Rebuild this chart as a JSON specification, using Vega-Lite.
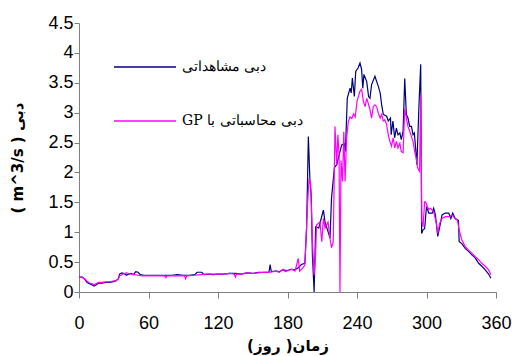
{
  "$schema": "https://vega.github.io/schema/vega-lite/v6.json",
  "width": 417,
  "height": 269,
  "autosize": "none",
  "padding": {"left": 79, "top": 23, "right": 16, "bottom": 64},
  "background": "white",
  "config": {"view": {"stroke": null}},
  "datasets": {
    "o": [[0,0.25],[3,0.25],[5,0.21],[7,0.16],[9,0.14],[11,0.12],[13,0.1],[15,0.12],[17,0.15],[20,0.15],[23,0.16],[26,0.16],[29,0.17],[32,0.19],[34,0.22],[35,0.3],[37,0.32],[39,0.31],[41,0.28],[43,0.3],[45,0.31],[47,0.29],[49,0.34],[51,0.33],[53,0.29],[56,0.28],[60,0.28],[65,0.28],[70,0.28],[75,0.28],[80,0.28],[85,0.29],[90,0.28],[95,0.28],[100,0.29],[102,0.33],[106,0.33],[108,0.29],[112,0.3],[116,0.29],[120,0.3],[125,0.3],[130,0.31],[135,0.31],[140,0.3],[145,0.32],[150,0.31],[155,0.33],[160,0.33],[164,0.33],[165,0.46],[166,0.34],[170,0.35],[173,0.34],[176,0.37],[180,0.36],[183,0.38],[186,0.37],[189,0.4],[192,0.46],[195,0.48],[196.5,1.07],[198,2.6],[199.4,1.85],[200.5,1.62],[201.5,0.62],[203,0],[204.3,1.09],[207,1.07],[208,1.15],[211,1.37],[212.4,1.17],[215,1.01],[216.7,0.9],[218,1.57],[220.5,2.08],[222.5,2.13],[225.3,2.35],[226.8,2.46],[229,2.48],[230,2.35],[231.6,3.24],[234,3.41],[235,3.33],[236,3.58],[237.7,3.27],[238.9,3.69],[241,3.75],[242.6,3.83],[244,3.72],[245,3.41],[246,3.64],[248.4,3.52],[250,3.27],[251.2,3.24],[252.6,3.47],[255.5,3.61],[257,3.52],[258.4,3.44],[260,3.33],[261.3,3.13],[262.7,2.97],[265.6,2.94],[267,2.86],[268.9,2.91],[269.5,2.63],[271,2.86],[272.5,2.58],[274,2.74],[275.4,2.63],[277,2.66],[278.2,2.55],[279.8,2.69],[281.2,3.57],[282.6,2.97],[284,2.91],[285.5,2.77],[287,2.77],[288.4,2.63],[289.5,2.66],[290.6,2.41],[291.7,2.13],[293.5,3.13],[295,3.81],[295.8,0.98],[297,1.04],[298.4,1.06],[300,1.43],[302,1.32],[305,1.32],[306.2,1.4],[307.7,1.29],[309.7,0.93],[311.4,1.09],[313.4,1.29],[316.3,1.32],[319.2,1.32],[321,1.23],[322.7,1.32],[324.7,1.23],[327.6,1.2],[328.2,0.84],[330.5,0.81],[333.4,0.73],[336.3,0.68],[339.2,0.62],[342,0.57],[345,0.48],[347.8,0.43],[350.7,0.37],[353.6,0.3],[355.6,0.23]],
    "g": [[0,0.25],[3,0.24],[5,0.22],[7,0.18],[9,0.15],[11,0.14],[13,0.12],[15,0.14],[17,0.16],[20,0.16],[23,0.17],[26,0.17],[29,0.18],[32,0.19],[34,0.22],[35,0.27],[37,0.29],[39,0.31],[41,0.32],[43,0.31],[45,0.3],[48,0.29],[51,0.28],[54,0.27],[60,0.27],[65,0.27],[70,0.27],[74,0.27],[75,0.24],[76,0.27],[80,0.27],[85,0.27],[91,0.27],[92,0.22],[93,0.27],[100,0.28],[105,0.29],[110,0.3],[115,0.3],[120,0.3],[125,0.3],[130,0.31],[134,0.3],[135,0.25],[136,0.3],[140,0.3],[145,0.32],[150,0.31],[155,0.32],[160,0.33],[165,0.33],[170,0.35],[173,0.33],[176,0.38],[178,0.34],[181,0.36],[184,0.38],[186.5,0.35],[189.3,0.56],[190.5,0.35],[193,0.4],[195,0.45],[197.3,1.46],[198.6,1.9],[200,1.8],[201.5,0.84],[203,0.28],[204.3,0.62],[205,1.12],[208,1.17],[209.6,0.84],[211,1.23],[212.4,1.07],[215,1.17],[216.5,0.92],[218,0.74],[219.5,0.84],[221,2.77],[222.5,2.13],[223.5,2.63],[224.5,2.3],[225.3,0],[226.2,2.2],[227.5,1.85],[228.6,2.68],[229.7,1.85],[231,2.57],[232.5,2.85],[234,2.93],[235.5,2.9],[237,2.98],[238.5,2.93],[240,3.19],[242.6,3.36],[244,3.39],[245.5,3.19],[247,3.1],[248.4,3.24],[251,3.07],[252.6,2.91],[254,3.1],[255.5,3.13],[257,3.1],[258.4,2.99],[260,2.91],[261.3,2.97],[262.7,2.86],[264,2.88],[265.6,2.8],[267,2.63],[268.4,2.52],[269.8,2.44],[271.2,2.58],[272.6,2.41],[274,2.52],[275.4,2.41],[277,2.49],[278.2,2.35],[279.8,2.33],[281.2,3.07],[282.6,2.91],[284,2.77],[285.5,2.69],[287,2.6],[288.4,2.52],[289.8,2.35],[291.1,2.24],[292.5,2.07],[294,2.02],[295,3.3],[296,1.18],[297,1.09],[298.4,1.51],[299.3,1.51],[300.7,1.43],[302,1.38],[303.5,1.4],[306.2,1.34],[308.5,1.15],[309.7,0.98],[311.4,1.15],[313.4,1.23],[316.3,1.26],[319.2,1.26],[322,1.29],[324.7,1.23],[326.7,1.2],[328.2,1.04],[330.5,0.87],[333.4,0.76],[336.3,0.7],[339.2,0.65],[342,0.59],[345,0.54],[347.8,0.48],[350.7,0.43],[353.6,0.37],[355.6,0.29]]
  },
  "layer": [
    {
      "data": {"name": "o"},
      "transform": [{"calculate": "datum[0]", "as": "day"}, {"calculate": "datum[1]", "as": "q"}, {"calculate": "'o'", "as": "s"}],
      "mark": {"type": "line", "strokeWidth": 1.2, "interpolate": "linear"},
      "encoding": {
        "x": {"field": "day", "type": "quantitative"},
        "y": {"field": "q", "type": "quantitative"},
        "color": {"field": "s", "type": "nominal"}
      }
    },
    {
      "data": {"name": "g"},
      "transform": [{"calculate": "datum[0]", "as": "day"}, {"calculate": "datum[1]", "as": "q"}, {"calculate": "'g'", "as": "s"}],
      "mark": {"type": "line", "strokeWidth": 1.2, "interpolate": "linear"},
      "encoding": {
        "x": {"field": "day", "type": "quantitative"},
        "y": {"field": "q", "type": "quantitative"},
        "color": {"field": "s", "type": "nominal"}
      }
    }
  ],
  "encoding": {
    "x": {
      "field": "day", "type": "quantitative",
      "scale": {"domain": [0, 360], "nice": false},
      "axis": {"values": [0, 60, 120, 180, 240, 300, 360], "grid": false, "labelFlush": false, "domainColor": "#808080", "tickColor": "#808080", "tickSize": 6, "labelFont": "Liberation Sans", "labelFontSize": 18, "labelColor": "black", "labelPadding": 16, "title": "\u202bزمان( روز)\u202c", "titleFont": "DejaVu Sans", "titleFontSize": 15, "titleFontWeight": "bold", "titleColor": "black", "titlePadding": 6}
    },
    "y": {
      "field": "q", "type": "quantitative",
      "scale": {"domain": [0, 4.5], "nice": false},
      "axis": {"values": [0, 0.5, 1, 1.5, 2, 2.5, 3, 3.5, 4, 4.5], "format": "~g", "grid": false, "labelFlush": false, "domainColor": "#808080", "tickColor": "#808080", "tickSize": 5, "labelFont": "Liberation Sans", "labelFontSize": 18, "labelColor": "black", "labelPadding": 1, "title": "( m^3/s ) دبی", "titleFont": "DejaVu Sans", "titleFontSize": 15, "titleFontWeight": "bold", "titleColor": "black", "titlePadding": 22}
    },
    "color": {
      "field": "s", "type": "nominal",
      "scale": {"domain": ["o", "g"], "range": ["#000080", "#ff00ff"]},
      "legend": {"orient": "none", "legendX": 34, "legendY": 12, "title": null, "symbolType": "stroke", "symbolSize": 3844, "symbolStrokeWidth": 1.5, "labelFont": "DejaVu Serif", "labelFontSize": 14, "labelColor": "black", "labelOffset": 5, "rowPadding": 15, "padding": 0, "labelExpr": "datum.label == 'o' ? 'دبی مشاهداتی' : 'GP دبی محاسباتی با'"}
    }
  }
}
